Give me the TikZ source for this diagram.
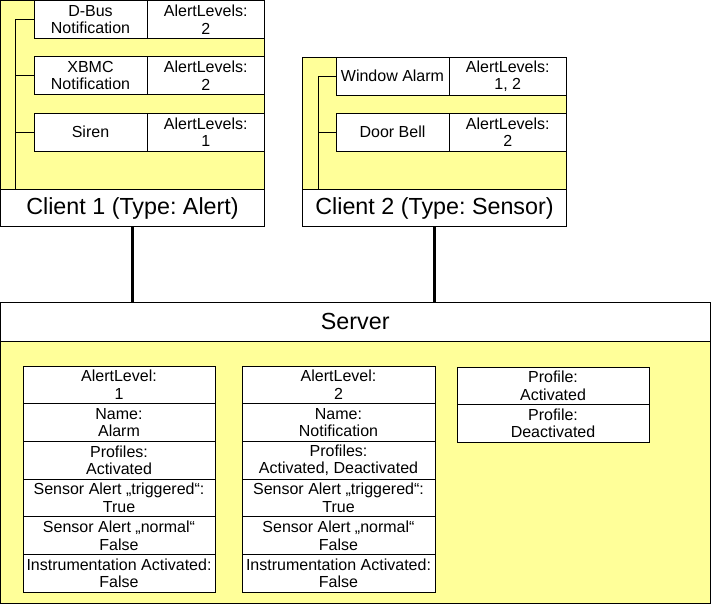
\documentclass[tikz,border=0pt]{standalone}
\usepackage{fontspec}
\setmainfont{Liberation Sans}
\usetikzlibrary{positioning}
\definecolor{paleyellow}{HTML}{FFFF99}
\frenchspacing

\tikzset{
	box/.style={draw, line width=0.9pt, outer sep=0pt, inner sep=0pt},
	frame/.style={box, fill=paleyellow},
	title/.style={box, fill=white, font=\fontsize{23.3}{26}\selectfont},
	cell/.style={box, fill=white, align=center, font=\fontsize{16}{17.5}\selectfont},
	tree/.style={line width=0.9pt},
	link/.style={line width=3pt}
}

\begin{document}
\begin{tikzpicture}[x=1pt, y=-1pt]
	\useasboundingbox (0,0) rectangle (711,605);
	% client 1
	\node[frame, minimum width=264pt, minimum height=189pt, anchor=north west] (c1box) at (0.5,0.5) {};
	\node[title, minimum width=264pt, minimum height=37pt, below=0pt of c1box] (c1) {Client 1 (Type: Alert)};
	\foreach \id/\txt/\lvl/\y in {dbus/{D-Bus\\Notification}/2/0.5, xbmc/{XBMC\\Notification}/2/56.5, siren/Siren/1/113}{
		\node[cell, minimum width=113pt, minimum height=38pt, anchor=north west] (\id) at (34,\y) {\txt};
		\node[cell, minimum width=117.5pt, minimum height=38pt, right=0pt of \id] (\id-lvl) {AlertLevels:\\\lvl};
		\draw[tree] (c1box.south west) ++(15,0) |- (\id.west);
	}
	% client 2
	\node[frame, minimum width=264pt, minimum height=132.5pt, anchor=north west] (c2box) at (302.5,57) {};
	\node[title, minimum width=264pt, minimum height=37pt, below=0pt of c2box] (c2) {Client 2 (Type: Sensor)};
	\foreach \id/\txt/\lvl/\y in {window/Window Alarm/{1, 2}/57, door/Door Bell/2/113}{
		\node[cell, minimum width=113pt, minimum height=38pt, anchor=north west] (\id) at (336,\y) {\txt};
		\node[cell, minimum width=117.5pt, minimum height=38pt, right=0pt of \id] (\id-lvl) {AlertLevels:\\\lvl};
		\draw[tree] (c2box.south west) ++(15.5,0) |- (\id.west);
	}
	% server
	\node[title, minimum width=709.5pt, minimum height=39pt, anchor=north west] (srv) at (0.5,302) {Server};
	\node[frame, minimum width=709.5pt, minimum height=262pt, below=0pt of srv] (srvbox) {};
	\foreach \txt [count=\i] in {{AlertLevel:\\1}, {Name:\\Alarm}, {Profiles:\\Activated}, {Sensor Alert „triggered“:\\True}, {Sensor Alert „normal“\\False}, {Instrumentation Activated:\\False}}{
		\node[cell, minimum width=192pt, minimum height=37.7pt, anchor=north west] (lvla-\i) at (23,{366+37.7*(\i-1)}) {\txt};
	}
	\foreach \txt [count=\i] in {{AlertLevel:\\2}, {Name:\\Notification}, {Profiles:\\Activated, Deactivated}, {Sensor Alert „triggered“:\\True}, {Sensor Alert „normal“\\False}, {Instrumentation Activated:\\False}}{
		\node[cell, minimum width=193pt, minimum height=37.7pt, anchor=north west] (lvlb-\i) at (242,{366+37.7*(\i-1)}) {\txt};
	}
	\foreach \txt [count=\i] in {{Profile:\\Activated}, {Profile:\\Deactivated}}{
		\node[cell, minimum width=192pt, minimum height=37.5pt, anchor=north west] (prof-\i) at (457,{367+37.5*(\i-1)}) {\txt};
	}
	% connections
	\draw[link] (c1.south) -- (c1.south |- srv.north);
	\draw[link] (c2.south) -- (c2.south |- srv.north);
\end{tikzpicture}
\end{document}
